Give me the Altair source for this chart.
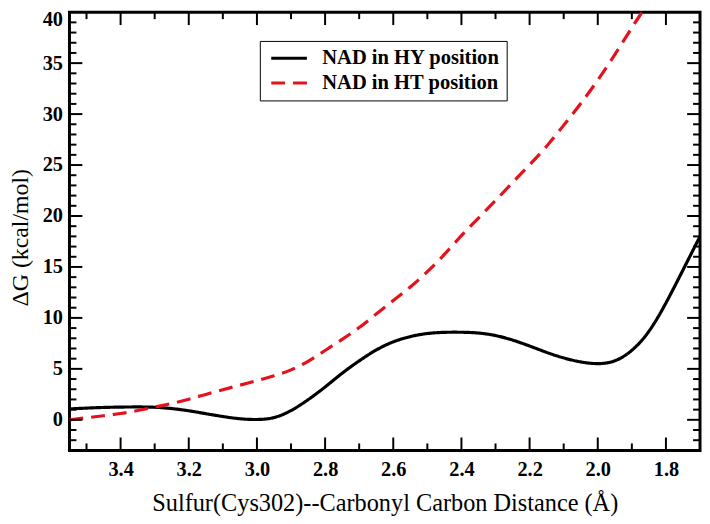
import altair as alt
import pandas as pd

# ---- data ----
hy_x = [3.55, 3.5, 3.45, 3.4, 3.35, 3.3, 3.25, 3.2, 3.15, 3.1, 3.05, 3.0, 2.95, 2.9,
        2.85, 2.8, 2.75, 2.7, 2.65, 2.6, 2.55, 2.5, 2.45, 2.4, 2.35, 2.3, 2.25, 2.2,
        2.15, 2.1, 2.05, 2.0, 1.95, 1.9, 1.85, 1.8, 1.75, 1.7]
hy_y = [1.07, 1.15, 1.22, 1.25, 1.27, 1.25, 1.12, 0.9, 0.6, 0.32, 0.08, 0.0, 0.12, 0.85,
        1.95, 3.2, 4.6, 5.8, 6.9, 7.7, 8.2, 8.5, 8.6, 8.6, 8.55, 8.3, 7.85, 7.25,
        6.6, 6.05, 5.65, 5.45, 5.65, 6.7, 8.5, 11.4, 14.7, 18.0]

ht_x = [3.55, 3.5, 3.45, 3.4, 3.35, 3.3, 3.25, 3.2, 3.15, 3.1, 3.05, 3.0, 2.95, 2.9,
        2.85, 2.8, 2.75, 2.7, 2.65, 2.6, 2.55, 2.5, 2.45, 2.4, 2.35, 2.3, 2.25, 2.2,
        2.15, 2.1, 2.05, 2.0, 1.95, 1.9, 1.87]
ht_y = [0.0, 0.2, 0.4, 0.6, 0.9, 1.25, 1.6, 2.0, 2.5, 2.95, 3.4, 3.85, 4.3, 4.85,
        5.7, 6.8, 7.9, 9.0, 10.4, 11.7, 13.0, 14.5, 16.2, 18.1, 19.8, 21.5, 23.3, 25.0,
        26.8, 28.9, 31.0, 33.3, 35.8, 38.5, 40.0]

series_names = ["NAD in HY position", "NAD in HT position"]
series_colors = ["#000000", "#e3121c"]

x_major = [3.4, 3.2, 3.0, 2.8, 2.6, 2.4, 2.2, 2.0, 1.8]
x_minor = [3.5, 3.3, 3.1, 2.9, 2.7, 2.5, 2.3, 2.1, 1.9]
y_major = [0, 5, 10, 15, 20, 25, 30, 35]
y_minor = [-2, -1, 1, 2, 3, 4, 6, 7, 8, 9, 11, 12, 13, 14, 16, 17, 18, 19,
           21, 22, 23, 24, 26, 27, 28, 29, 31, 32, 33, 34, 36, 37, 38, 39]
y_labels = [0, 5, 10, 15, 20, 25, 30, 35, 40]

x_title = "Sulfur(Cys302)--Carbonyl Carbon Distance (Å)"
y_title = "ΔG (kcal/mol)"

# ---- tables ----
df = pd.concat([
    pd.DataFrame({"d": hy_x, "g": hy_y, "s": series_names[0], "o": range(len(hy_x))}),
    pd.DataFrame({"d": ht_x, "g": ht_y, "s": series_names[1], "o": range(len(ht_x))}),
])

W, H = 636, 442
SERIF = "Liberation Serif"

xs = alt.Scale(domain=[1.7, 3.55], reverse=True, nice=False, zero=False)
ys = alt.Scale(domain=[-3, 40], nice=False, zero=False)

x_axis = alt.Axis(values=x_major, format=".1f", ticks=False, domain=False, grid=False,
                  labelFont=SERIF, labelFontWeight="bold", labelFontSize=20.5,
                  labelColor="black", labelPadding=9,
                  titleFont=SERIF, titleFontWeight="normal", titleFontSize=24.5,
                  titleColor="black", titleBaseline="alphabetic", titleY=61)
y_axis = alt.Axis(values=y_labels, format="d", ticks=False, domain=False, grid=False,
                  labelFont=SERIF, labelFontWeight="bold", labelFontSize=20.5,
                  labelColor="black", labelPadding=7,
                  labelOffset={"condition": {"test": "datum.value === 40", "value": 7}, "value": 0},
                  titleFont=SERIF, titleFontWeight="normal", titleFontSize=24,
                  titleColor="black", titleBaseline="alphabetic",
                  titleX=-42, titleY=227)

legend = alt.Legend(
    title=None, orient="none", legendX=192, legendY=29,
    symbolType="M-2,0H2", symbolSize=324, symbolStrokeWidth=3,
    symbolFillColor="transparent",
    labelFont=SERIF, labelFontWeight="bold", labelFontSize=20.7, labelColor="black",
    padding=7, strokeColor="black", fillColor="white", rowPadding=3,
    labelOffset=23, symbolOffset=12, labelLimit=400,
)

lines = alt.Chart(df).mark_line(strokeWidth=3.2, interpolate="basis", clip=True).encode(
    x=alt.X("d:Q", scale=xs, title=x_title, axis=x_axis),
    y=alt.Y("g:Q", scale=ys, title=y_title, axis=y_axis),
    color=alt.Color("s:N", scale=alt.Scale(domain=series_names, range=series_colors), legend=legend),
    strokeDash=alt.StrokeDash("s:N", scale=alt.Scale(domain=series_names, range=[[1, 0], [14, 8]]),
                              legend=legend),
    order="o:Q",
)

def xticks(vals, length):
    d = pd.DataFrame({"d": vals})
    bottom = alt.Chart(d).mark_rule(color="black", strokeWidth=2).encode(
        x=alt.X("d:Q", scale=xs, title=x_title, axis=x_axis), y=alt.value(H), y2=alt.value(H - length))
    top = alt.Chart(d).mark_rule(color="black", strokeWidth=2).encode(
        x=alt.X("d:Q", scale=xs, title=x_title, axis=x_axis), y=alt.value(0), y2=alt.value(length))
    return [bottom, top]

def yticks(vals, length):
    d = pd.DataFrame({"g": vals})
    left = alt.Chart(d).mark_rule(color="black", strokeWidth=2).encode(
        y=alt.Y("g:Q", scale=ys, title=y_title, axis=y_axis), x=alt.value(0), x2=alt.value(length))
    right = alt.Chart(d).mark_rule(color="black", strokeWidth=2).encode(
        y=alt.Y("g:Q", scale=ys, title=y_title, axis=y_axis), x=alt.value(W), x2=alt.value(W - length))
    return [left, right]

layers = [lines] + xticks(x_major, 13) + xticks(x_minor, 7) + yticks(y_major, 13) + yticks(y_minor, 7)

chart = alt.layer(*layers).properties(
    width=W, height=H,
    padding={"left": 62, "top": 2, "right": 2, "bottom": 68},
    autosize="none",
    background="white",
).configure_view(stroke="black", strokeWidth=3)

chart.save("out.html", embed_options={"renderer": "svg", "actions": False})
